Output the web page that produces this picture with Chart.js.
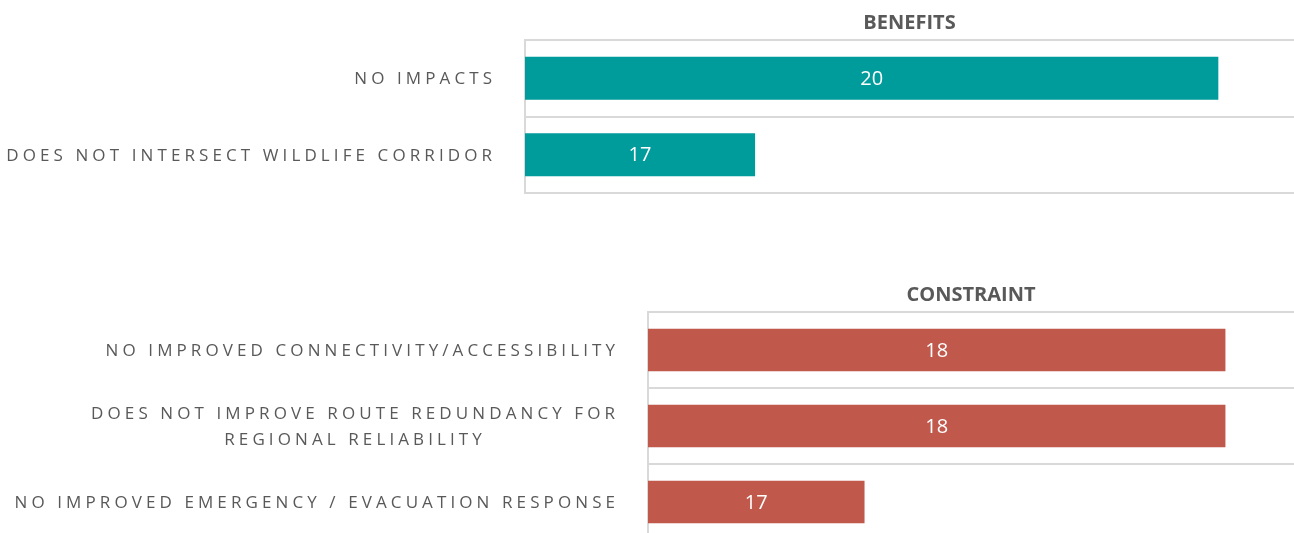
<!DOCTYPE html>
<html lang="en">
<head>
    <meta charset="UTF-8">
    <title>Benefits and constraints</title>
    <script src="https://cdn.jsdelivr.net/npm/chart.js@4/dist/chart.umd.min.js"></script>
    <style>
        html, body { margin: 0; padding: 0; background: #fff; overflow: hidden; }
        .panel { position: absolute; left: 0; width: 1294px; }
        #benefitsBox { top: 0; height: 200px; }
        #constraintBox { top: 270px; height: 280px; }
    </style>
</head>
<body>
    <div class="panel" id="benefitsBox"><canvas id="benefits"></canvas></div>
    <div class="panel" id="constraintBox"><canvas id="constraint"></canvas></div>
    <script>
        // categories and scores
        const benefitCategories = ['NO IMPACTS', 'DOES NOT INTERSECT WILDLIFE CORRIDOR'];
        const benefitValues = [20, 17];
        const constraintCategories = [
            'NO IMPROVED CONNECTIVITY/ACCESSIBILITY',
            ['DOES NOT IMPROVE ROUTE REDUNDANCY FOR', 'REGIONAL RELIABILITY'],
            'NO IMPROVED EMERGENCY / EVACUATION RESPONSE'
        ];
        const constraintValues = [18, 18, 17];

        const LABEL_SPACING = 4.1;
        const GRID = '#d9d9d9';

        // category labels (spaced caps, wrapped lines centered), panel title, value labels
        const panelText = {
            id: 'panelText',
            afterDraw(chart, args, opts) {
                const ctx = chart.ctx;
                const area = chart.chartArea;
                const yScale = chart.scales.y;
                const values = chart.data.datasets[0].data;

                ctx.save();
                ctx.textBaseline = 'middle';

                // values centred on the visible part of each bar (axis does not start at 0)
                ctx.font = '20px "Open Sans"';
                ctx.fillStyle = '#ffffff';
                ctx.textAlign = 'center';
                chart.getDatasetMeta(0).data.forEach((bar, i) => {
                    const start = Math.max(bar.base, area.left);
                    ctx.fillText(String(values[i]), (bar.x + start) / 2, bar.y + 1);
                });

                // category labels
                ctx.font = '17px "Open Sans"';
                ctx.fillStyle = '#595959';
                ctx.letterSpacing = LABEL_SPACING + 'px';
                ctx.textAlign = 'left';
                const right = area.left - 33;
                chart.data.labels.forEach((label, i) => {
                    const lines = [].concat(label);
                    const widths = lines.map(l => ctx.measureText(l).width - LABEL_SPACING);
                    const block = Math.max(...widths);
                    const cy = yScale.getPixelForValue(i);
                    lines.forEach((line, j) => {
                        const ly = cy + (j - (lines.length - 1) / 2) * 26;
                        ctx.fillText(line, right - block + (block - widths[j]) / 2, ly + 1);
                    });
                });

                // panel heading
                ctx.letterSpacing = '0px';
                ctx.font = 'bold 20px "Open Sans"';
                ctx.textAlign = 'center';
                ctx.fillText(opts.title, (area.left + area.right) / 2, area.top - 17);
                ctx.restore();
            }
        };

        function makeChart(id, categories, values, color, title, axisWidth, min, max, pad) {
            return new Chart(document.getElementById(id), {
                type: 'bar',
                data: {
                    labels: categories,
                    datasets: [{
                        data: values,
                        backgroundColor: color,
                        borderWidth: 0,
                        categoryPercentage: 1,
                        barPercentage: 0.56
                    }]
                },
                options: {
                    indexAxis: 'y',
                    responsive: true,
                    maintainAspectRatio: false,
                    animation: false,
                    layout: { padding: pad },
                    plugins: {
                        legend: { display: false },
                        title: { display: false },
                        tooltip: { enabled: false },
                        panelText: { title: title }
                    },
                    scales: {
                        x: { display: false, min: min, max: max },
                        y: {
                            ticks: { display: false },
                            grid: { color: GRID, lineWidth: 2, drawTicks: false },
                            border: { color: GRID, width: 2 },
                            afterFit(scale) { scale.width = axisWidth; }
                        }
                    }
                },
                plugins: [panelText]
            });
        }

        makeChart('benefits', benefitCategories, benefitValues, '#009b9b', 'BENEFITS',
            525, 15.51, 20.49, { top: 40, bottom: 7, left: 0, right: 0 });
        makeChart('constraint', constraintCategories, constraintValues, '#c0594b', 'CONSTRAINT',
            648, 16.4, 18.19, { top: 42, bottom: 10, left: 0, right: 0 });
    </script>
</body>
</html>
